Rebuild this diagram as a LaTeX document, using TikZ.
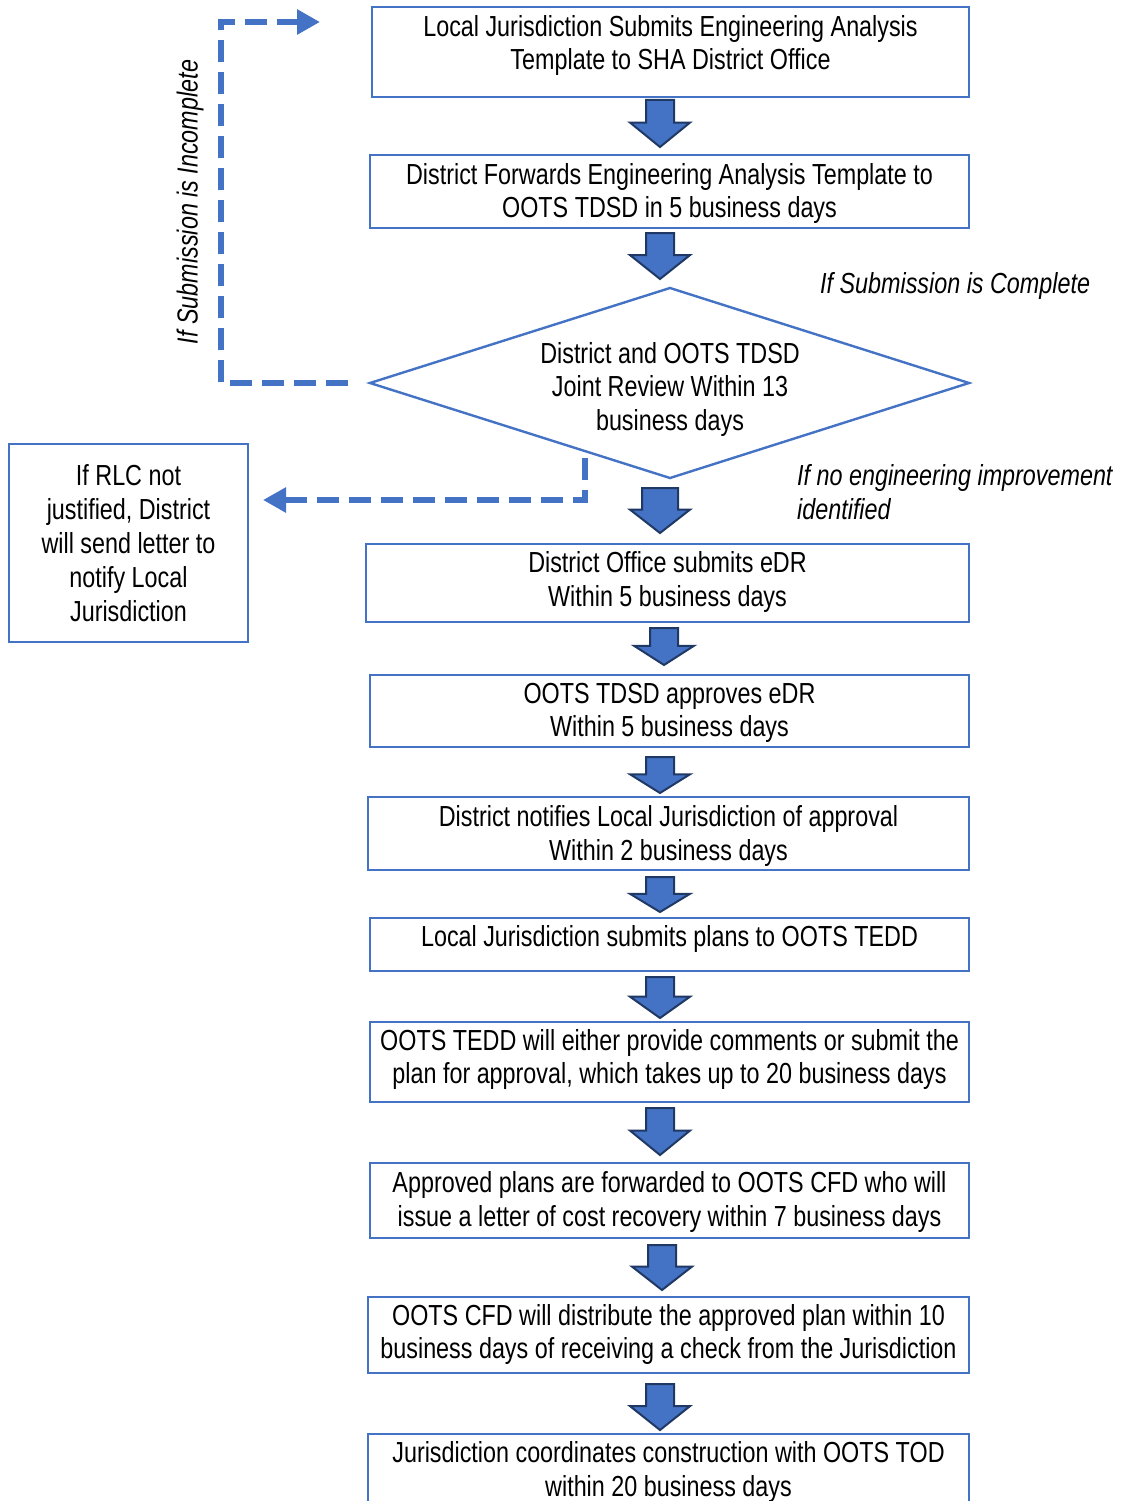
\documentclass[tikz,border=0pt]{standalone}
\usepackage{fontspec}
\setmainfont{Liberation Sans}[FakeStretch=0.805]
\usetikzlibrary{arrows.meta}
\definecolor{boxblue}{HTML}{4472C4}
\definecolor{navy}{HTML}{203864}
\tikzset{
  boxline/.style={draw=boxblue, line width=2.4pt, fill=white},
  txt/.style={align=center, inner sep=0pt, font=\fontsize{29pt}{33.5pt}\selectfont},
  itxt/.style={align=left, inner sep=0pt, font=\fontsize{29pt}{33.5pt}\selectfont\itshape},
  dashline/.style={draw=boxblue, line width=6.5pt, dash pattern=on 22pt off 10pt,
     -{Triangle[length=23pt,width=24pt]}},
  blockarrow/.style={fill=boxblue, draw=navy, line width=2pt, line join=miter},
}
\newcommand{\barrow}[4]{% cx, top, bottom, shaft half width
  \pgfmathsetmacro{\hy}{#2+0.48*(#3-#2)}
  \draw[blockarrow] (#1-#4,#2) -- (#1+#4,#2) -- (#1+#4,\hy) -- (#1+30,\hy) -- (#1,#3)
     -- (#1-30,\hy) -- (#1-#4,\hy) -- cycle;}
\begin{document}
\begin{tikzpicture}[x=1pt,y=-1pt]
\clip (0,0) rectangle (1128,1501);
\fill[white] (0,0) rectangle (1128,1501);

% boxes
\draw[boxline] (372,7) rectangle (969,97);
\node[txt] (t1) at (670.5,45.5) {Local Jurisdiction Submits Engineering Analysis\\Template to SHA District Office};
\draw[boxline] (370,155) rectangle (969,228);
\node[txt] (t2) at (669.5,193.5) {District Forwards Engineering Analysis Template to\\OOTS TDSD in 5 business days};

% diamond
\draw[boxline] (370,383) -- (670,288) -- (969,383) -- (670,478) -- cycle;
\node[txt] (d) at (670,389) {District and OOTS TDSD\\Joint Review Within 13\\business days};

\node[itxt, anchor=west] (lc) at (820,286) {If Submission is Complete};
\node[itxt, anchor=west] (ln) at (797,492) {If no engineering improvement\\identified};
\node[itxt, rotate=90] (li) at (190,202) {If Submission is Incomplete};

% left box
\draw[boxline] (9,444) rectangle (248,642);
\node[txt, font=\fontsize{29pt}{34pt}\selectfont] (lb) at (128.5,543) {If RLC not\\justified, District\\will send letter to\\notify Local\\Jurisdiction};

% dashed feedback paths
\coordinate (s1) at (348,383);
\coordinate (e1) at (320,22);
\draw[dashline] (s1) -- (221,383) -- (221,22) -- (e1);
\coordinate (s2) at (585,458);
\coordinate (e2) at (263,500);
\draw[dashline] (s2) -- (585,500) -- (e2);

\draw[boxline] (366,544) rectangle (969,622);
\node[txt] (t3) at (667.5,582) {District Office submits eDR\\Within 5 business days};
\draw[boxline] (370,675) rectangle (969,747);
\node[txt] (t4) at (669.5,713) {OOTS TDSD approves eDR\\Within 5 business days};
\draw[boxline] (368,797) rectangle (969,870);
\node[txt] (t5) at (668.5,836) {District notifies Local Jurisdiction of approval\\Within 2 business days};
\draw[boxline] (370,918) rectangle (969,971);
\node[txt] (t6) at (669.5,939) {Local Jurisdiction submits plans to OOTS TEDD};
\draw[boxline] (370,1022) rectangle (969,1102);
\node[txt] (t7) at (669.5,1059.5) {OOTS TEDD will either provide comments or submit the\\plan for approval, which takes up to 20 business days};
\draw[boxline] (370,1163) rectangle (969,1238);
\node[txt] (t8) at (669.5,1202) {Approved plans are forwarded to OOTS CFD who will\\issue a letter of cost recovery within 7 business days};
\draw[boxline] (368,1297) rectangle (969,1373);
\node[txt] (t9) at (668.5,1334.5) {OOTS CFD will distribute the approved plan within 10\\business days of receiving a check from the Jurisdiction};
\draw[boxline] (368,1434) rectangle (969,1520);
\node[txt] (t10) at (668.5,1472) {Jurisdiction coordinates construction with OOTS TOD\\within 20 business days};

% block arrows
\barrow{660}{100}{147}{14}
\barrow{660}{233}{279}{14}
\barrow{660}{488}{533}{18}
\barrow{664}{628}{665}{14}
\barrow{660}{757}{793}{14}
\barrow{660}{877}{912}{14}
\barrow{660}{977}{1018}{14}
\barrow{660}{1108}{1155}{14}
\barrow{662}{1245}{1290}{14}
\barrow{660}{1384}{1430}{14}
\end{tikzpicture}
\end{document}
